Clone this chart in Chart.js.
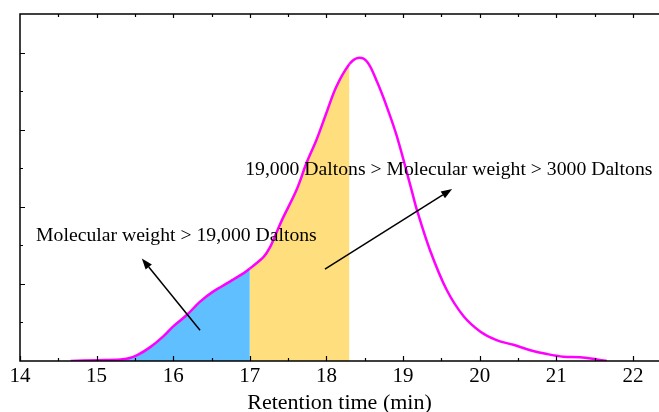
<!DOCTYPE html>
<html>
<head>
<meta charset="utf-8">
<script src="https://cdn.jsdelivr.net/npm/chart.js@4.4.1/dist/chart.umd.min.js"></script>
<style>
  html, body { margin: 0; padding: 0; background: #fff; }
  #wrap { width: 659px; height: 412px; }
</style>
</head>
<body>
<div id="wrap"><canvas id="gpc"></canvas></div>
<script>
// Chromatogram (retention time in min, detector signal in arbitrary units)
const retentionTime = [14.66, 15.00, 15.31, 15.42, 15.53, 15.70, 15.87, 16.00, 16.18, 16.35, 16.52, 16.74, 16.92, 17.00,
  17.18, 17.26, 17.35, 17.42, 17.61, 17.74, 17.87, 18.00, 18.13, 18.30, 18.41, 18.53, 18.66, 18.79, 18.92,
  19.11, 19.18, 19.35, 19.57, 19.79, 20.01, 20.22, 20.44, 20.66, 20.88, 21.09, 21.31, 21.53, 21.66];
const signal = [0, 0.01, 0.02, 0.035, 0.075, 0.18, 0.32, 0.45, 0.60, 0.77, 0.90, 1.03, 1.14, 1.20,
  1.35, 1.47, 1.67, 1.83, 2.22, 2.57, 2.87, 3.22, 3.56, 3.85, 3.93, 3.88, 3.62, 3.29, 2.91,
  2.22, 1.96, 1.44, 0.92, 0.58, 0.38, 0.27, 0.21, 0.14, 0.09, 0.056, 0.048, 0.02, 0];

// Fraction cut points (min)
const highMwEnd = 17.0;
const midMwEnd = 18.3;

// Axis ticks
const xTickLabels = [14, 15, 16, 17, 18, 19, 20, 21, 22];
const xRange = [14, 22.34];
const yRange = [0, 4.5];

// Annotations: [text, x, y] and arrows [fromX, fromY, toX, toY] in data units
const labelHigh = ['Molecular weight > 19,000 Daltons', 14.21, 1.62];
const labelMid = ['19,000 Daltons > Molecular weight > 3000 Daltons', 16.94, 2.48];
const arrowHigh = [16.35, 0.40, 15.59, 1.33];
const arrowMid = [17.98, 1.19, 19.64, 2.23];

const serif = "'Liberation Serif', 'Times New Roman', serif";

// frame with inward ticks, like the original plot
const framePlugin = {
  id: 'frame',
  afterDatasetsDraw(chart) {
    const { ctx, chartArea: a, scales: { x, y } } = chart;
    ctx.save();
    ctx.strokeStyle = '#000';
    ctx.lineWidth = 1.5;
    ctx.beginPath();
    ctx.moveTo(a.right, a.top);
    ctx.lineTo(a.left, a.top);
    ctx.lineTo(a.left, a.bottom);
    ctx.lineTo(a.right, a.bottom);
    ctx.stroke();

    ctx.lineWidth = 1.2;
    ctx.beginPath();
    for (let v = xRange[0]; v <= xRange[1]; v += 0.5) {
      const px = Math.round(x.getPixelForValue(v)) + 0.5;
      const major = Number.isInteger(v);
      ctx.moveTo(px, a.bottom);
      ctx.lineTo(px, a.bottom - (major ? 5 : 3));
      if (v > xRange[0]) {
        ctx.moveTo(px, a.top);
        ctx.lineTo(px, a.top + (major ? 4 : 3));
      }
    }
    for (let v = yRange[0] + 0.5; v < yRange[1]; v += 0.5) {
      const py = Math.round(y.getPixelForValue(v)) + 0.5;
      const major = Number.isInteger(v);
      ctx.moveTo(a.left, py);
      ctx.lineTo(a.left + (major ? 5 : 3), py);
    }
    ctx.stroke();
    ctx.restore();
  },
  afterDraw(chart) {
    const { ctx, scales: { x, y } } = chart;
    ctx.save();
    ctx.fillStyle = '#000';
    ctx.font = '19.7px ' + serif;
    ctx.textBaseline = 'middle';
    [labelHigh, labelMid].forEach(([t, vx, vy]) => {
      ctx.fillText(t, x.getPixelForValue(vx), y.getPixelForValue(vy));
    });

    ctx.strokeStyle = '#000';
    ctx.lineWidth = 1.5;
    [arrowHigh, arrowMid].forEach(([x0, y0, x1, y1]) => {
      const ax = x.getPixelForValue(x0), ay = y.getPixelForValue(y0);
      const bx = x.getPixelForValue(x1), by = y.getPixelForValue(y1);
      const ang = Math.atan2(by - ay, bx - ax);
      const len = 11, half = 4;
      const hx = bx - len * Math.cos(ang), hy = by - len * Math.sin(ang);
      ctx.beginPath();
      ctx.moveTo(ax, ay);
      ctx.lineTo(hx, hy);
      ctx.stroke();
      ctx.beginPath();
      ctx.moveTo(bx, by);
      ctx.lineTo(hx + half * Math.sin(ang), hy - half * Math.cos(ang));
      ctx.lineTo(hx - half * Math.sin(ang), hy + half * Math.cos(ang));
      ctx.closePath();
      ctx.fill();
    });
    ctx.restore();
  }
};

const points = retentionTime.map((t, i) => ({ x: t, y: signal[i] }));

new Chart(document.getElementById('gpc'), {
  type: 'line',
  data: {
    datasets: [{
      data: points,
      borderColor: '#ff00ff',
      borderWidth: 2.5,
      backgroundColor: 'transparent',
      fill: 'origin',
      pointRadius: 0,
      tension: 0.35,
      segment: {
        backgroundColor: ctx => {
          const t = ctx.p0.parsed.x;
          if (t < highMwEnd) return '#5fbfff';
          if (t < midMwEnd) return '#ffde7e';
          return 'transparent';
        }
      }
    }]
  },
  options: {
    responsive: true,
    maintainAspectRatio: false,
    animation: false,
    layout: { padding: { left: 20, top: 14, right: 0, bottom: 0 } },
    scales: {
      x: {
        type: 'linear',
        min: xRange[0],
        max: xRange[1],
        afterBuildTicks: scale => { scale.ticks = xTickLabels.map(v => ({ value: v })); },
        afterFit: scale => { scale.height = 51; },
        grid: { display: false, drawTicks: false },
        border: { display: false },
        ticks: {
          color: '#000',
          padding: 3,
          maxRotation: 0,
          autoSkip: false,
          font: { family: serif, size: 21 }
        },
        title: {
          display: true,
          text: 'Retention time (min)',
          color: '#000',
          padding: 0,
          font: { family: serif, size: 22, lineHeight: 0.8 }
        }
      },
      y: {
        display: false,
        min: yRange[0],
        max: yRange[1]
      }
    },
    plugins: {
      legend: { display: false },
      tooltip: { enabled: false }
    }
  },
  plugins: [framePlugin]
});
</script>
</body>
</html>
